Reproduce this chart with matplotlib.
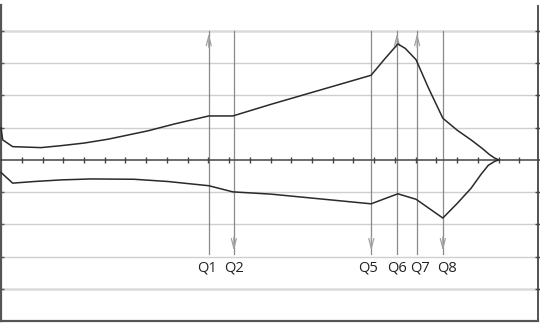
import matplotlib
matplotlib.use("Agg")
import matplotlib.pyplot as plt

# upper (positive) curve, x in tick units
upper_x = [0, 0.08, 0.56, 1.93, 2.89, 4.0, 5.16, 7.09, 8.35, 10.02, 11.18,
           13.02, 17.85, 18.5, 19.14, 19.5, 20.02, 20.6, 21.31, 22.0, 22.67,
           23.2, 23.55, 23.8, 24.0]
upper_y = [0.99, 0.62, 0.41, 0.38, 0.44, 0.52, 0.64, 0.90, 1.11, 1.36, 1.36,
           1.72, 2.62, 3.12, 3.59, 3.45, 3.10, 2.25, 1.29, 0.92, 0.62,
           0.36, 0.17, 0.06, 0.0]

# lower (negative) curve
lower_x = [0, 0.56, 1.59, 2.89, 4.34, 6.42, 8.06, 10.02, 11.18, 13.02,
           17.85, 19.14, 20.02, 21.31, 22.0, 22.67, 23.15, 23.5, 23.8, 24.0]
lower_y = [-0.39, -0.72, -0.67, -0.62, -0.59, -0.60, -0.67, -0.80, -0.99, -1.06,
           -1.36, -1.05, -1.22, -1.80, -1.35, -0.88, -0.45, -0.17, -0.05, 0.0]

# marker lines
q_labels = ["Q1", "Q2", "Q5", "Q6", "Q7", "Q8"]
q_x = [10.02, 11.23, 17.86, 19.10, 20.07, 21.31]
q_dir = ["up", "down", "down", "up", "up", "down"]
label_nudge = [-2, 0, -3, 0, 3, 4]  # px

grid_levels = [-4, -3, -2, -1, 1, 2, 3, 4]
x_ticks = list(range(1, 26))

fig = plt.figure(figsize=(5.4, 3.23), dpi=100)
ax = fig.add_axes([0, 0, 1, 1])
ax.set_xlim(-0.05, 25.997)
ax.set_ylim(-5.05, 4.95)
ax.axis("off")

# grid
for g in grid_levels:
    thick = abs(g) == 4
    ax.axhline(g, color="#dadada" if thick else "#cfcfcf", lw=1.8 if thick else 1.0, zorder=1)

# borders
ax.plot([0, 0], [-5.0, 4.8], color="#555555", lw=1.6, zorder=3)
ax.plot([25.9, 25.9], [-5.0, 4.75], color="#444444", lw=1.3, zorder=3)
ax.plot([0, 25.9], [-5.0, -5.0], color="#555555", lw=1.6, zorder=3)
ax.plot([0] * len(grid_levels), grid_levels, ls="none", marker="_", ms=5,
        color="#555555", mew=1, zorder=3)
ax.plot([25.9] * len(grid_levels), grid_levels, ls="none", marker="_", ms=5,
        color="#444444", mew=1, zorder=3)

# x axis with ticks
ax.axhline(0, color="#444444", lw=1.1, zorder=3)
ax.plot(x_ticks, [0] * len(x_ticks), ls="none", marker="|", ms=5,
        color="#444444", mew=1, zorder=3)

# Q lines with open arrows
for lab, x, d, dx in zip(q_labels, q_x, q_dir, label_nudge):
    top, bot = 4.0, -2.9
    ax.plot([x, x], [bot, top], color="#8a8a8a", lw=0.9, zorder=2)
    tip, tail = (top, top - 0.6) if d == "up" else (bot, bot + 0.6)
    ax.annotate("", xy=(x, tip), xytext=(x, tail),
                arrowprops=dict(arrowstyle="->,head_length=0.7,head_width=0.18",
                                color="#a0a0a0", lw=0.9), zorder=2)
    ax.annotate(lab, xy=(x, -3.34), xytext=(dx, 0), textcoords="offset pixels",
                ha="center", va="center", fontsize=10.5, family="Open Sans",
                color="#222222")

# curves
ax.plot(upper_x, upper_y, color="#2a2a2a", lw=1.1, zorder=4)
ax.plot(lower_x, lower_y, color="#2a2a2a", lw=1.1, zorder=4)

fig.savefig("out.png", dpi=100)
